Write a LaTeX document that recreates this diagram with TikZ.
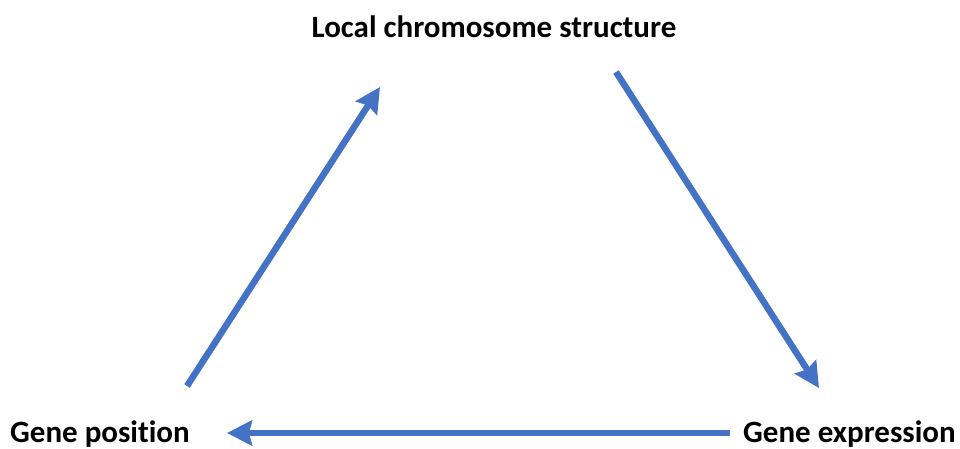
\documentclass[tikz,border=0pt]{standalone}
\usepackage{fontspec}
\setmainfont{Carlito}[Ligatures=NoCommon]
\usetikzlibrary{arrows.meta}
\tikzset{
  lbl/.style={font=\bfseries\fontsize{31}{36}\selectfont, inner sep=0pt, text=black},
  flow/.style={draw={rgb,255:red,68;green,114;blue,196}, line width=6.5pt,
    -{Stealth[length=25pt,width=25pt,inset=3pt]}},
}
\begin{document}
\begin{tikzpicture}[x=1pt,y=-1pt]
\useasboundingbox (0,0) rectangle (960,448);
\node[lbl, anchor=base] (top) at (494,37) {Local chromosome structure};
\node[lbl, anchor=base west] (pos) at (10,442) {Gene position};
\node[lbl, anchor=base west] (expr) at (743,442) {Gene expression};
\coordinate (a1s) at (187,386);
\coordinate (a1e) at (380,87);
\coordinate (a2s) at (616,72);
\coordinate (a2e) at (819,388);
\coordinate (a3s) at (730,433);
\coordinate (a3e) at (227,433);
\draw[flow] (a1s) -- (a1e);
\draw[flow] (a2s) -- (a2e);
\draw[flow] (a3s) -- (a3e);
\end{tikzpicture}
\end{document}
